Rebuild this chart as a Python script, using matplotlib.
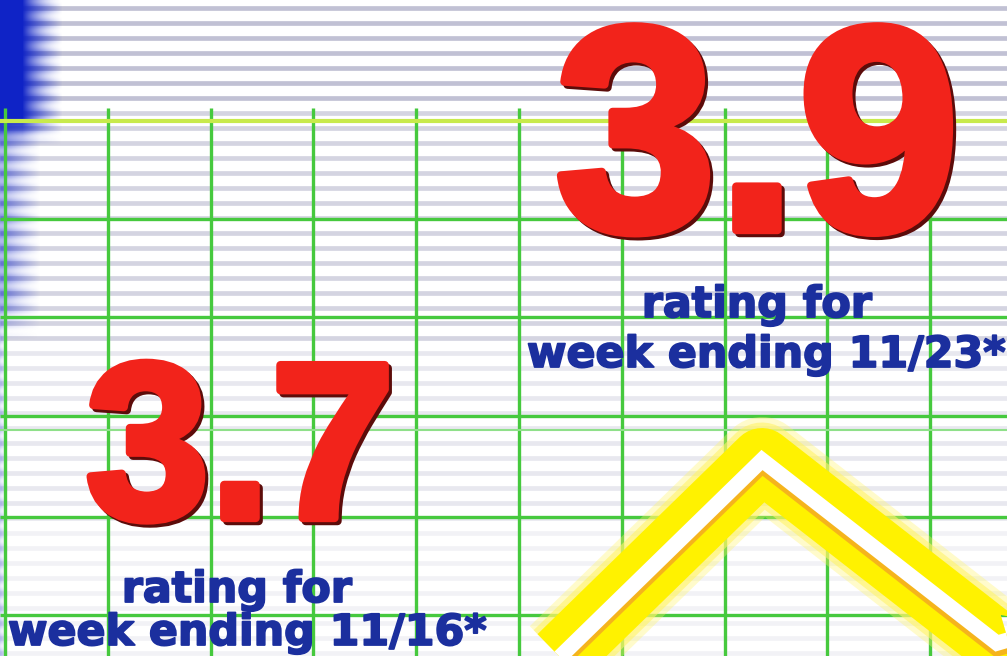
import numpy as np
import matplotlib.pyplot as plt
from matplotlib import patheffects as pe

weeks = ['11/16', '11/23', '11/30', '12/7']
ratings = [3.7, 3.9, 3.74, 3.8]
caption = 'rating for'

W, H = 1007, 656
fig = plt.figure(figsize=(W / 100, H / 100), dpi=100)

# background "graph paper" in pixel units
bg = fig.add_axes([0, 0, 1, 1])
bg.axis('off')

ys = np.arange(8, H, 15)
alpha = np.where(ys < 110, 0.6, np.where(ys < 340, 0.42, np.where(ys < 520, 0.22, 0.12)))
bg.hlines(ys, 0, W, colors=[(0.6, 0.6, 0.72, a) for a in alpha], linewidth=3.4, zorder=1)

# blue bleed on the left edge, broken up by the stripes
xx = np.arange(80)
yy = np.arange(H)
top = np.clip((145 - yy) / 25, 0, 1)
mid = np.clip((340 - yy) / 40, 0, 1) - top
m = np.outer(top, np.clip((62 - xx) / 40, 0, 1))
m += np.outer(mid, np.clip((40 - xx) / 38, 0, 1) * 0.55)
m += np.outer(1 - top - mid, np.clip(1 - xx / 8, 0, 1) * 0.3)
stripe = (0.5 + 0.5 * np.cos(2 * np.pi * (yy - 8) / 15))[:, None]
m = np.clip(m, 0, 1)
m = m * (1 - (1 - m) * (1 - stripe) * 0.9)
img = np.zeros((H, len(xx), 4))
img[..., :3] = (0.06, 0.14, 0.78)
img[..., 3] = m
bg.imshow(img, extent=(0, len(xx), H, 0), aspect='auto', zorder=2, interpolation='bilinear')

gx = 5 + 102.8 * np.arange(10)
bg.vlines(gx, 108, H, colors='#46c93e', linewidth=2.4, zorder=3)
bg.hlines([219, 317, 416, 517, 615], 0, W, colors='#46c93e', linewidth=2.4, zorder=3)
bg.hlines(430, 0, W, colors='#8fe08a', linewidth=1.5, zorder=3)
bg.hlines(121, 0, W, colors='#c8ea4c', linewidth=3, zorder=3)
bg.set_xlim(0, W)
bg.set_ylim(H, 0)

# the rating line
ax = fig.add_axes([0, 0, 1, 1])
ax.patch.set_visible(False)
ax.axis('off')
x = np.arange(len(weeks))
ax.plot(x, ratings, color='white', lw=11, solid_joinstyle='miter', solid_capstyle='butt',
        path_effects=[
            pe.Stroke(linewidth=62, foreground='#fff56a', alpha=0.35, joinstyle='round'),
            pe.Stroke(linewidth=54, foreground='#fff36a', alpha=0.6, joinstyle='round'),
            pe.Stroke(linewidth=46, foreground='#fff200', joinstyle='round'),
            pe.Stroke(linewidth=12, foreground='#f5b41c', offset=(0, -3.5), joinstyle='miter'),
            pe.Normal()])
ax.set_xlim(-527 / 235, 480 / 235)
ax.set_ylim(3.9 - 196 / 1145, 3.9 + 460 / 1145)

red = '#f2231b'
num_fx = [pe.SimplePatchShadow(offset=(2.2, -2.2), shadow_rgbFace='#5c0c0a', alpha=1),
          pe.Stroke(offset=(2.2, -2.2), linewidth=6, foreground='#5c0c0a'),
          pe.Stroke(linewidth=6, foreground=red),
          pe.Normal()]
blue = '#1b2f9e'
txt_fx = [pe.Stroke(linewidth=1.3, foreground=blue), pe.Normal()]

big = dict(family='Liberation Sans', weight='bold', color=red, path_effects=num_fx, zorder=6)
small = dict(family='DejaVu Sans', weight='bold', color=blue, fontsize=30.8, path_effects=txt_fx, zorder=6)

bg.text(757, 230, '{:.1f}'.format(ratings[1]), ha='center', va='baseline', fontsize=210, **big)
bg.text(240, 518, '{:.1f}'.format(ratings[0]), ha='center', va='baseline', fontsize=160, **big)

bg.text(757, 317, caption, ha='center', va='baseline', **small)
bg.text(527, 367, 'week ending ' + weeks[1] + '*', ha='left', va='baseline', **small)
bg.text(237, 602, caption, ha='center', va='baseline', **small)
bg.text(8, 645, 'week ending ' + weeks[0] + '*', ha='left', va='baseline', **small)

fig.savefig('out.png', dpi=100)
